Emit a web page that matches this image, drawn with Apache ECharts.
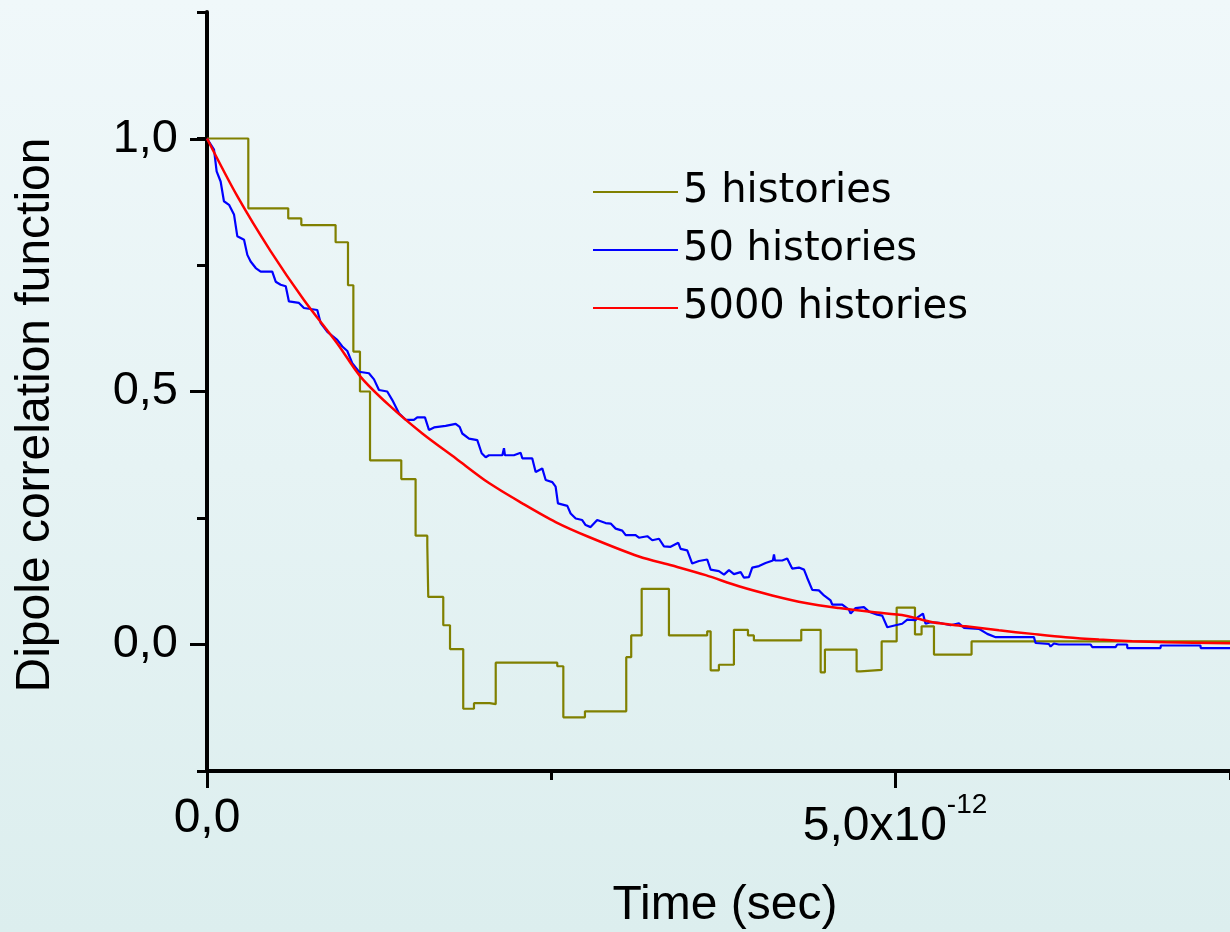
<!DOCTYPE html>
<html><head><meta charset="utf-8">
<script src="https://cdn.jsdelivr.net/npm/echarts@6/dist/echarts.min.js"></script>
<style>html,body{margin:0;padding:0;}#c{width:1230px;height:932px;}</style>
</head><body><div id="c"></div>
<script>
// time in units of 1e-12 s
const seriesNames = ['5 histories', '50 histories', '5000 histories'];

const t5 = [0, 0.30, 0.59, 0.685, 0.934, 1.024, 1.063, 1.111, 1.184, 1.411, 1.515, 1.600, 1.607, 1.716, 1.765, 1.861, 1.939, 2.053, 2.097, 2.544, 2.588, 2.745, 3.045, 3.081, 3.157, 3.355, 3.633, 3.658, 3.718, 3.827, 3.929, 3.972, 4.316, 4.457, 4.488, 4.718, 4.747, 4.900, 5.009, 5.142, 5.190, 5.280, 5.553, 7.43];
const v5 = [1.000, 0.862, 0.842, 0.829, 0.795, 0.710, 0.579, 0.500, 0.364, 0.327, 0.215, 0.196, 0.094, 0.038, -0.009, -0.127, -0.116, -0.118, -0.036, -0.043, -0.144, -0.132, -0.025, 0.018, 0.110, 0.018, 0.026, -0.051, -0.040, 0.029, 0.018, 0.008, 0.029, -0.055, -0.010, -0.053, -0.050, 0.006, 0.073, 0.020, 0.036, -0.020, 0.006, 0.006];

const t50 = [0.000,0.051,0.070,0.099,0.123,0.160,0.196,0.220,0.269,0.293,0.317,0.354,0.390,0.474,0.499,0.535,0.572,0.595,0.668,0.704,0.801,0.826,0.874,0.946,0.983,1.019,1.055,1.104,1.176,1.213,1.249,1.309,1.346,1.358,1.394,1.443,1.503,1.527,1.583,1.612,1.649,1.733,1.806,1.835,1.854,1.903,1.963,1.995,2.024,2.048,2.145,2.157,2.164,2.229,2.278,2.290,2.362,2.387,2.435,2.460,2.508,2.532,2.549,2.617,2.641,2.678,2.725,2.750,2.786,2.834,2.895,2.932,2.968,3.016,3.041,3.113,3.137,3.198,3.234,3.283,3.319,3.367,3.423,3.440,3.488,3.524,3.573,3.633,3.658,3.718,3.755,3.791,3.827,3.876,3.900,3.936,3.960,4.009,4.057,4.110,4.118,4.125,4.178,4.214,4.250,4.299,4.336,4.359,4.396,4.444,4.481,4.529,4.541,4.614,4.662,4.675,4.711,4.771,4.808,4.868,4.904,4.941,5.001,5.049,5.086,5.147,5.158,5.200,5.219,5.256,5.316,5.401,5.461,5.497,5.606,5.667,5.728,6.006,6.018,6.115,6.127,6.151,6.187,6.418,6.429,6.599,6.611,6.683,6.684,6.926,6.927,7.216,7.217,7.43];
const v50 = [1.000,0.978,0.935,0.915,0.876,0.869,0.850,0.807,0.800,0.770,0.757,0.744,0.737,0.737,0.717,0.711,0.708,0.678,0.675,0.665,0.661,0.635,0.618,0.602,0.589,0.580,0.556,0.539,0.536,0.524,0.503,0.500,0.483,0.480,0.457,0.444,0.444,0.449,0.449,0.424,0.429,0.432,0.436,0.430,0.417,0.407,0.404,0.378,0.370,0.374,0.374,0.388,0.374,0.374,0.379,0.368,0.368,0.341,0.348,0.325,0.321,0.312,0.279,0.274,0.259,0.249,0.246,0.236,0.232,0.246,0.240,0.239,0.229,0.225,0.216,0.216,0.211,0.214,0.206,0.209,0.194,0.193,0.201,0.189,0.186,0.160,0.165,0.168,0.148,0.145,0.138,0.147,0.139,0.143,0.132,0.133,0.152,0.155,0.161,0.166,0.178,0.166,0.166,0.170,0.150,0.152,0.148,0.132,0.108,0.107,0.097,0.087,0.079,0.079,0.069,0.061,0.072,0.074,0.065,0.059,0.057,0.034,0.038,0.041,0.049,0.048,0.053,0.061,0.041,0.044,0.043,0.038,0.042,0.033,0.031,0.021,0.0145,0.0145,0.003,0.001,-0.004,0.002,0.000,0.000,-0.005,-0.005,0.000,0.000,-0.007,-0.007,-0.002,-0.002,-0.007,-0.007];

const t5000 = [0, 0.22, 0.463, 0.704, 0.946, 1.116, 1.322, 1.564, 1.806, 2.048, 2.290, 2.532, 2.774, 3.137, 3.379, 3.622, 3.863, 4.105, 4.348, 4.590, 4.832, 5.074, 5.270, 5.510, 5.752, 5.994, 6.236, 6.478, 6.720, 6.962, 7.43];
const v5000 = [1.000, 0.886, 0.777, 0.681, 0.595, 0.529, 0.473, 0.417, 0.368, 0.319, 0.279, 0.242, 0.2125, 0.174, 0.156, 0.137, 0.115, 0.097, 0.082, 0.072, 0.064, 0.057, 0.044, 0.036, 0.028, 0.021, 0.0145, 0.0099, 0.0066, 0.0046, 0.0026];

const xMajorTicks = [0, 5];
const xTickLabels = ['0,0', '5,0x10'];
const xTickExponents = ['', '-12'];
const yMajorTicks = [0, 0.5, 1.0];
const yTickLabels = ['0,0', '0,5', '1,0'];

const xTitle = 'Time (sec)';
const yTitle = 'Dipole correlation function';

const zip = (a, b) => a.map((x, i) => [x, b[i]]);
const FONT = '"Liberation Sans", Arial, Helvetica, sans-serif';
const tickStyle = (len) => ({show: true, length: len, lineStyle: {color: '#000', width: 3}});

const chart = echarts.init(document.getElementById('c'), null, {renderer: 'canvas'});
chart.setOption({
  animation: false,
  backgroundColor: {type: 'linear', x: 0, y: 0, x2: 0, y2: 1,
    colorStops: [{offset: 0, color: '#F0F8FA'}, {offset: 1, color: '#DCEEEE'}]},
  grid: [
    {left: 207, right: 0, top: 12, bottom: 161, containLabel: false, outerBoundsMode: 'none'},
    {left: 207, right: 0, top: 139, bottom: 288, containLabel: false, outerBoundsMode: 'none'},
    {left: 207, width: 688, top: 600, bottom: 161, containLabel: false, outerBoundsMode: 'none'}
  ],
  xAxis: [
    {gridIndex: 0, type: 'value', min: 0, max: 7.43, interval: 2.5,
     axisLine: {show: true, onZero: false, lineStyle: {color: '#000', width: 4}},
     axisTick: tickStyle(9), axisLabel: {show: false}, splitLine: {show: false},
     name: xTitle, nameLocation: 'middle', nameGap: 107,
     nameTextStyle: {fontFamily: FONT, fontSize: 48, color: '#000', lineHeight: 56, padding: [0, 0, 0, 13]}},
    {gridIndex: 1, type: 'value', min: 0, max: 7.43, show: false},
    {gridIndex: 2, type: 'value', min: 0, max: 5, interval: 5,
     axisLine: {show: false}, axisTick: tickStyle(17), splitLine: {show: false},
     axisLabel: {margin: 20, color: '#000',
       formatter: (v) => {
         const i = xMajorTicks.indexOf(v);
         if (i < 0) return '';
         return xTickExponents[i] ? '{b|' + xTickLabels[i] + '}{s|' + xTickExponents[i] + '}' : '{a|' + xTickLabels[i] + '}';
       },
       rich: {
         a: {fontFamily: FONT, fontSize: 48, color: '#000', lineHeight: 56},
         b: {fontFamily: FONT, fontSize: 48, color: '#000', lineHeight: 71},
         s: {fontFamily: FONT, fontSize: 28, color: '#000', lineHeight: 35, verticalAlign: 'top'}
       }}}
  ],
  yAxis: [
    {gridIndex: 0, type: 'value', min: -0.25, max: 1.25, interval: 0.25,
     axisLine: {show: true, onZero: false, lineStyle: {color: '#000', width: 4}},
     axisTick: tickStyle(10), axisLabel: {show: false}, splitLine: {show: false}},
    {gridIndex: 1, type: 'value', min: 0, max: 1, interval: 0.5,
     axisLine: {show: false}, axisTick: tickStyle(17), splitLine: {show: false},
     axisLabel: {margin: 29, fontFamily: FONT, fontSize: 47, color: '#000',
       formatter: (v) => { const i = yMajorTicks.findIndex(t => Math.abs(t - v) < 1e-9); return i < 0 ? '' : yTickLabels[i]; }}},
    {gridIndex: 2, type: 'value', show: false}
  ],
  legend: {
    orient: 'vertical', left: 593, top: 169, padding: 0, itemGap: 12,
    itemWidth: 85, itemHeight: 2, icon: 'rect',
    textStyle: {fontFamily: '"DejaVu Sans", sans-serif', fontSize: 40, color: '#000', lineHeight: 46},
    data: seriesNames
  },
  graphic: [{
    type: 'text', x: 36, y: 415, rotation: Math.PI / 2, silent: true,
    style: {text: yTitle, fontFamily: FONT, fontSize: 48, fill: '#000', align: 'center', verticalAlign: 'middle'}
  }],
  series: [
    {name: seriesNames[0], type: 'line', xAxisIndex: 0, yAxisIndex: 0, step: 'end', symbol: 'none',
     lineStyle: {color: '#808000', width: 2.2}, itemStyle: {color: '#808000'}, data: zip(t5, v5)},
    {name: seriesNames[1], type: 'line', xAxisIndex: 0, yAxisIndex: 0, symbol: 'none',
     lineStyle: {color: '#0000FF', width: 2.2}, itemStyle: {color: '#0000FF'}, data: zip(t50, v50)},
    {name: seriesNames[2], type: 'line', xAxisIndex: 0, yAxisIndex: 0, symbol: 'none', smooth: 0.3,
     lineStyle: {color: '#FF0000', width: 2.5}, itemStyle: {color: '#FF0000'}, data: zip(t5000, v5000)}
  ]
});
</script>
</body></html>
